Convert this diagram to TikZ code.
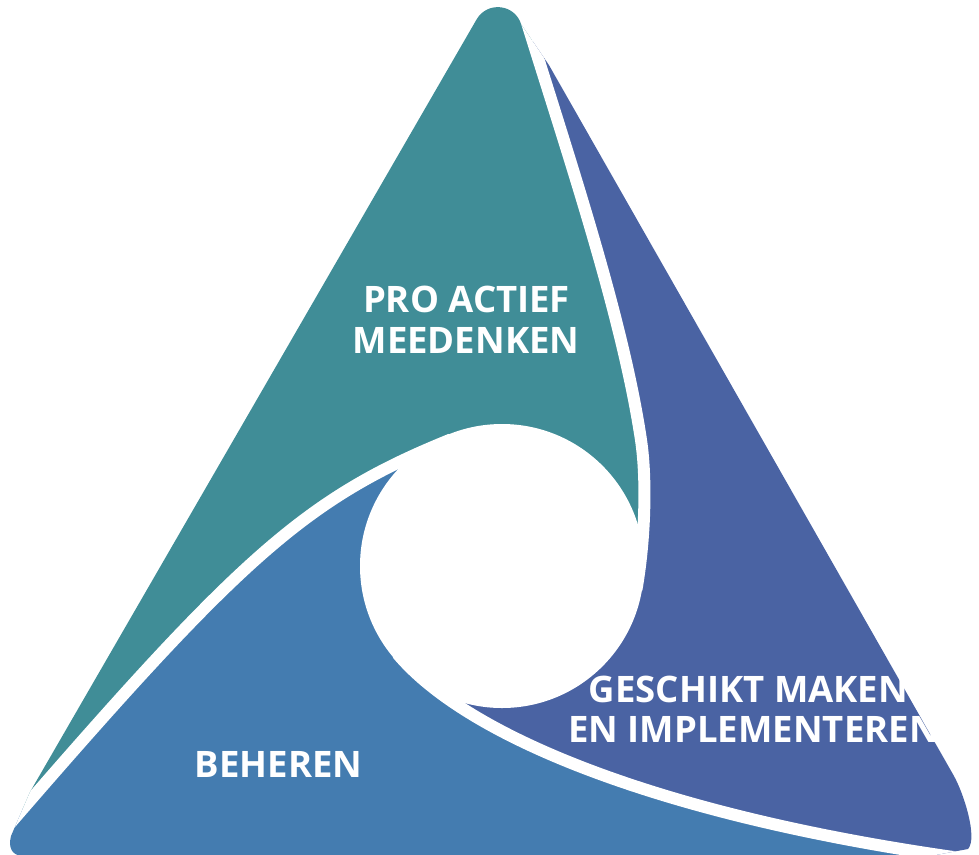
\documentclass[tikz,border=0pt]{standalone}
\usepackage{fontspec}
\setmainfont{Open Sans}
\definecolor{cteal}{RGB}{64,141,151}
\definecolor{cdark}{RGB}{74,99,163}
\definecolor{cblue}{RGB}{68,124,176}
\begin{document}
\begin{tikzpicture}[x=1pt,y=-1pt,
  gapline/.style={draw=white,line width=12pt},
  txt/.style={text=white,font=\bfseries\fontsize{36.5}{44}\selectfont,inner sep=0pt,anchor=base}]
\useasboundingbox (0,0) rectangle (979,854);
\coordinate (C) at (502,566);
\coordinate (P1) at (450.9,439.4);
\coordinate (E1) at (-30,870);
\coordinate (P2) at (397.4,653.7);
\coordinate (E2) at (990,862);
\coordinate (P3) at (636.4,589.7);
\coordinate (K3) at (641,440);
\coordinate (E3) at (520,0);
\coordinate (F3) at (501.6,-60);
\begin{scope}
\clip (476.6,19.4) .. controls (487.3,0.9) and (514.9,3.9) .. (521.2,24.4)
  -- (548.9,65) -- (953.4,775) .. controls (963.7,793) and (978,838) .. (968,849)
  -- (930,856) -- (24,856) .. controls (12,856) and (8,848) .. (11,836)
  -- (30,792) -- cycle;
\fill[cteal] (C) -- (P3) .. controls (645.1,540.5) and (646.9,479.6) .. (K3)
  .. controls (621.8,311.4) and (564,143.4) .. (E3) -- (F3) -- (-300,-60) -- (-300,900)
  -- (E1) .. controls (234.7,562.3) and (298.3,501.1) .. (P1) -- cycle;
\fill[cdark] (C) -- (P2) .. controls (471.3,741.8) and (680,822) .. (E2) -- (1200,900)
  -- (1200,-60) -- (F3) -- (E3) .. controls (564,143.4) and (621.8,311.4) .. (K3)
  .. controls (646.9,479.6) and (645.1,540.5) .. (P3) -- cycle;
\fill[cblue] (C) -- (P1) .. controls (298.3,501.1) and (234.7,562.3) .. (E1)
  -- (-30,1000) -- (1000,1000) -- (E2) .. controls (680,822) and (471.3,741.8) .. (P2) -- cycle;
\draw[gapline] (P1) .. controls (298.3,501.1) and (234.7,562.3) .. (E1);
\draw[gapline] (P2) .. controls (471.3,741.8) and (680,822) .. (E2);
\draw[gapline] (P3) .. controls (645.1,540.5) and (646.9,479.6) .. (K3)
  .. controls (621.8,311.4) and (564,143.4) .. (E3) -- (F3);
\fill[white] (C) circle[radius=142];
\end{scope}
\node[txt] (pro1) at (466.5,312) {PRO ACTIEF};
\node[txt] (pro2) at (466,353) {MEEDENKEN};
\node[txt] (ges1) at (748.5,702) {GESCHIKT MAKEN};
\node[txt] (ges2) at (753.5,742) {EN IMPLEMENTEREN};
\node[txt] (beh) at (278.5,777) {BEHEREN};
\end{tikzpicture}
\end{document}
